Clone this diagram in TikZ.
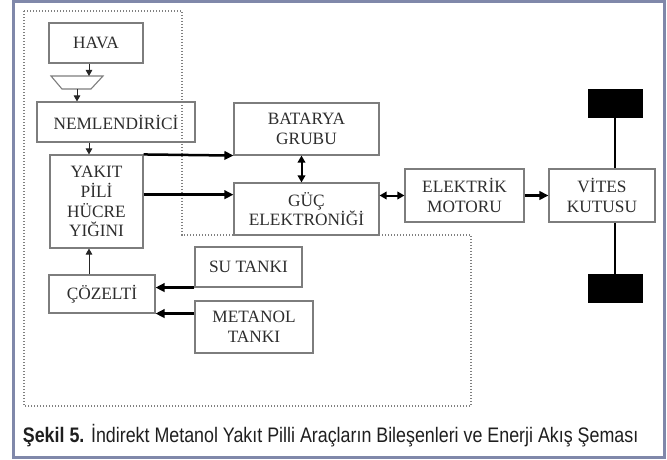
\documentclass[tikz,border=0pt]{standalone}
\usepackage{fontspec}
\setmainfont{Liberation Serif}
\newfontfamily\capfont[FakeStretch=0.85]{Liberation Sans}
\usetikzlibrary{arrows.meta,calc}
\definecolor{frameblue}{RGB}{128,136,170}
\definecolor{boxline}{RGB}{125,125,125}
\definecolor{boxtext}{RGB}{45,45,45}
\begin{document}
\begin{tikzpicture}[x=1pt,y=-1pt,
 box/.style={draw=boxline, line width=1.1pt, text=boxtext, align=center, inner sep=0pt, font=\fontsize{17.3}{19.8}\selectfont},
 thinarr/.style={draw=black!85, line width=1pt, -{Triangle[length=6pt,width=6.5pt]}},
 thickarr/.style={line width=2.5pt, -{Triangle[length=9pt,width=8.5pt]}},
 dblarr/.style={line width=2pt, {Triangle[length=7pt,width=7.5pt]}-{Triangle[length=7pt,width=7.5pt]}},
 wheel/.style={fill=black, draw=black, minimum width=54pt, minimum height=28pt, inner sep=0pt},
 region/.style={draw=gray, line width=1.2pt, dash pattern=on 1.2pt off 1.8pt}]

\useasboundingbox (0,0) rectangle (667,460);
\fill[white] (0,0) rectangle (667,460);
\draw[frameblue, line width=3pt] (13.5,2) rectangle (664.5,457.5);

% dotted region
\draw[region] (24,11) -- (182,11) -- (182,235) -- (471,235) -- (471,406) -- (24,406) -- cycle;

% boxes
\node[box, minimum width=94pt, minimum height=40pt] (hava) at (96,43) {HAVA};
\node[box, minimum width=158pt, minimum height=40pt] (neml) at (116,122) {NEMLENDİRİCİ};
\node[box, minimum width=93pt, minimum height=93pt] (yakit) at (96.5,201.5) {YAKIT\\PİLİ\\HÜCRE\\YIĞINI};
\node[box, minimum width=106pt, minimum height=38pt] (coz) at (102,294) {ÇÖZELTİ};
\node[box, minimum width=107pt, minimum height=40pt] (su) at (248.5,267) {SU TANKI};
\node[box, minimum width=118pt, minimum height=52pt] (met) at (254,327) {METANOL\\TANKI};
\node[box, minimum width=145pt, minimum height=52pt] (bat) at (306.5,129) {BATARYA\\GRUBU};
\node[box, minimum width=145pt, minimum height=52pt] (guc) at (306.5,209) {GÜÇ\\ELEKTRONİĞİ};
\node[box, minimum width=119pt, minimum height=53pt] (elek) at (464.5,195.5) {ELEKTRİK\\MOTORU};
\node[box, minimum width=106pt, minimum height=53pt] (vites) at (602,195.5) {VİTES\\KUTUSU};

% wheels and axle
\node[wheel] (wt) at (615,103) {};
\node[wheel] (wb) at (615,288) {};
\draw[line width=2pt] (wt.south) -- (wt.south |- vites.north);
\draw[line width=2pt] (wb.north |- vites.south) -- (wb.north);

% trapezoid (filter)
\coordinate (trT) at (77,76);
\coordinate (trB) at (77,89);
\draw[boxline, line width=1.1pt] (51,76) -- (103,76) -- (91,89) -- (62,89) -- cycle;

% thin arrows
\coordinate (ax) at (89,0);
\draw[thinarr] (hava.south -| ax) -- (ax |- trT);
\draw[thinarr] (trB) -- (trB |- neml.north);
\draw[thinarr] (neml.south -| ax) -- (yakit.north -| ax);
\draw[thinarr] (coz.north -| ax) -- (yakit.south -| ax);

% thick arrows
\coordinate (g1) at ($(guc.north west)!0.23!(guc.south west)$);
\draw[thickarr] (yakit.north east) -- (bat.south west);
\draw[thickarr] (yakit.east |- g1) -- (g1);
\draw[thickarr] (su.south west) -- (coz.east |- su.south west);
\draw[thickarr] (met.west |- coz.south east) -- (coz.south east);
\draw[thickarr] (elek.east) -- (vites.west);

% double arrows
\coordinate (bx) at ($(bat.south)+(-5,0)$);
\draw[dblarr] (bx) -- (bx |- guc.north);
\draw[dblarr] (guc.east |- elek.west) -- (elek.west);

% caption
\node[anchor=base west, inner sep=0pt, text=black!88, font=\capfont\fontsize{21}{24}\selectfont] (cap) at (22.7,442)
 {\textbf{Şekil 5.} İndirekt Metanol Yakıt Pilli Araçların Bileşenleri ve Enerji Akış Şeması};
\end{tikzpicture}
\end{document}
